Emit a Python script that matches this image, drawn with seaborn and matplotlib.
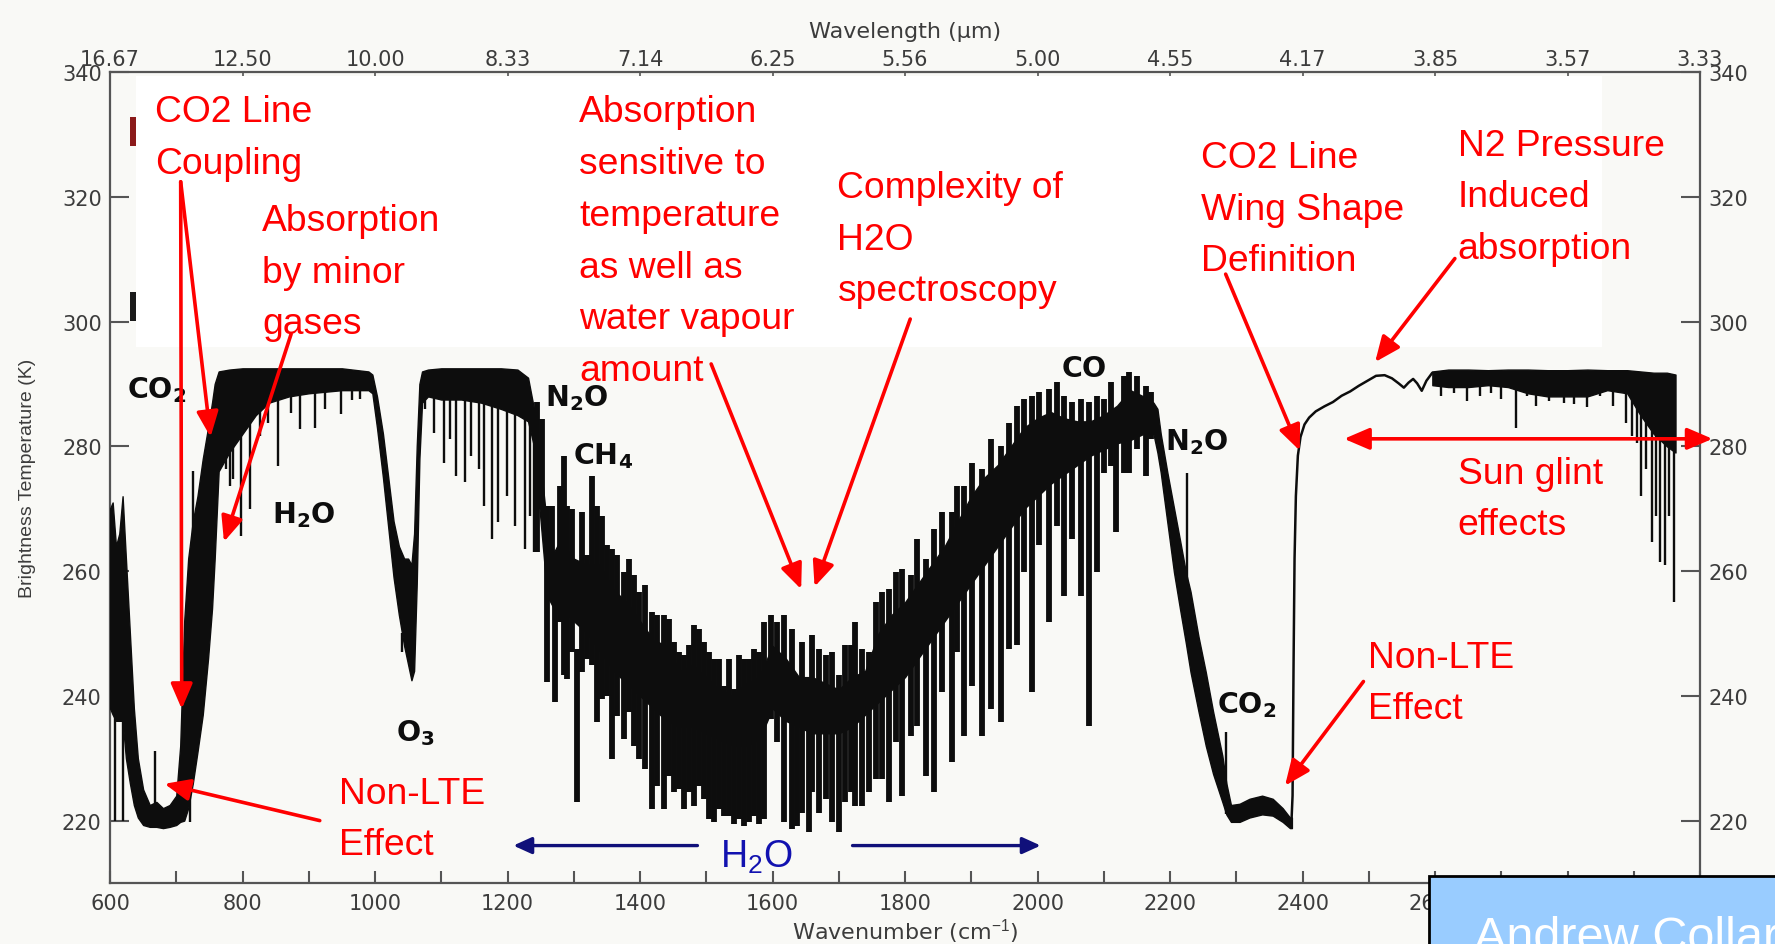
import matplotlib
matplotlib.use("Agg")
import matplotlib.pyplot as plt
from matplotlib.patches import Rectangle
import seaborn as sns

sns.set_theme(style="white")
plt.rcParams["font.family"] = ["DejaVu Sans"]
plt.rcParams["mathtext.fontset"] = "custom"
plt.rcParams["mathtext.rm"] = "Liberation Sans"
plt.rcParams["mathtext.it"] = "Liberation Sans:italic"
plt.rcParams["mathtext.bf"] = "DejaVu Sans:bold"

# ---------------- spectrum data (wavenumber cm-1, brightness temperature K) ----------------
# blackened part of the spectrum, 600-2384 cm-1: lower / upper edge
band_wn = [600, 604, 609, 614, 619, 624, 630, 636, 642, 650, 660, 670, 680, 690, 700, 706, 712, 718,
           725, 732, 740, 748, 754, 758, 764, 780, 800, 820, 840, 870, 900, 950, 990, 996, 1003, 1012,
           1020, 1028, 1036, 1044, 1050, 1055, 1059, 1063, 1067, 1071, 1080, 1100, 1130, 1160, 1190,
           1215, 1231, 1240, 1250, 1260, 1270, 1280, 1300, 1320, 1340, 1360, 1380, 1400, 1420, 1440,
           1460, 1480, 1500, 1520, 1540, 1560, 1580, 1600, 1620, 1640, 1660, 1680, 1700, 1720, 1740,
           1760, 1780, 1800, 1820, 1840, 1860, 1880, 1900, 1920, 1940, 1960, 1980, 2000, 2020, 2040,
           2060, 2080, 2100, 2120, 2140, 2160, 2175, 2181, 2186, 2196, 2206, 2215, 2224, 2231, 2243,
           2254, 2265, 2279, 2285, 2292, 2305, 2320, 2339, 2355, 2370, 2381, 2384]
band_lo = [238, 237, 236, 236, 236, 230, 226, 222.5, 220.5, 219.3, 219, 219, 218.8, 219, 219.3, 219.8,
           220, 222, 226, 231, 237, 246, 254, 262, 276, 279, 282, 285, 287, 288, 288.5, 289, 289, 288.5,
           283, 275, 267, 259, 253, 248, 245, 242.5, 244, 258, 278, 287, 288, 287.5, 287.5, 287, 286,
           285, 284, 280, 268, 256, 254, 254, 252, 250, 247, 244, 242, 240, 238, 236, 235, 235, 234,
           233, 232, 232, 233, 238, 236, 235, 234, 234, 234, 235, 237, 239, 241, 243, 246, 249, 252,
           255, 258, 261, 264, 267, 270, 272, 274, 275.5, 277, 278.5, 279.5, 280.5, 281, 282, 282, 279,
           275.8, 267.8, 259.8, 254, 248.4, 243.8, 237.5, 232, 227.5, 223, 221, 219.8, 219.8, 220.5, 221,
           220.8, 219.8, 218.8, 218.8]
band_hi = [270, 271, 264, 266, 272, 262, 250, 238, 230, 225, 222.5, 223, 222, 222.5, 224, 232, 252, 262,
           268, 272, 278, 283, 287, 290, 292, 292.3, 292.5, 292.5, 292.5, 292.5, 292.5, 292.5, 292, 291.5,
           288, 282, 275, 268, 264, 262, 262, 261, 266, 280, 290, 292, 292.3, 292.5, 292.5, 292.5, 292.5,
           292.3, 291, 286, 277, 267, 263, 265, 262, 261, 261, 257, 255, 252, 249, 248, 244, 245, 243,
           241, 240, 242, 243, 248, 246, 243, 243, 242, 241, 243, 244, 250, 253, 255, 258, 261, 264, 268,
           272, 275, 277, 280, 283, 284.5, 285.5, 284.5, 284, 284, 285, 286.5, 289, 288, 287, 286, 282,
           275.8, 270.1, 265, 259.8, 256.7, 249.5, 243.8, 237.5, 230.4, 226, 222.5, 222.7, 223.5, 224,
           223.5, 222, 220.5, 220.5]

# clean trace across the 4.3 um band edge and the N2 continuum
trace_wn = [2383, 2385, 2386.5, 2388, 2390, 2393, 2397, 2403, 2410, 2420, 2433, 2446, 2459, 2472, 2485,
            2498, 2511, 2524, 2535, 2545, 2553, 2560, 2567, 2573, 2580, 2587, 2596]
trace_t = [219, 224, 245, 262, 272, 278.5, 281.5, 283.5, 284.6, 285.6, 286.4, 287.1, 288.1, 288.8,
           289.7, 290.5, 291.3, 291.4, 290.9, 290.1, 289.4, 290.2, 290.8, 290.1, 288.9, 290.5, 291.8]

# blackened part beyond 2596 cm-1
band2_wn = [2596, 2620, 2650, 2680, 2710, 2740, 2770, 2800, 2830, 2860, 2890, 2910, 2930, 2950, 2963]
band2_lo = [289.8, 289.5, 289.5, 289.8, 289.5, 288.5, 288, 288, 288, 289, 288.5, 285, 282, 280, 279]
band2_hi = [292, 292.3, 292.3, 292.2, 292.3, 292.3, 292.2, 292.2, 292.3, 292.2, 292.2, 292, 291.8, 291.8, 291.5]

# water-vapour line forest, 1244-2171 cm-1: wavenumber, top and bottom of each line
forest_wn = [1244, 1252, 1259.6, 1267, 1272, 1279.7, 1286, 1290, 1297, 1305, 1312.5, 1320, 1327.5, 1335,
             1342.6, 1350, 1357.8, 1365.3, 1375.4, 1383, 1390.5, 1398, 1408, 1418, 1425.7, 1435.8,
             1443.4, 1451, 1458.5, 1466, 1473.6, 1481, 1488.7, 1496.2, 1503.8, 1511.3, 1518.9, 1526.4,
             1534, 1541.5, 1549, 1556.6, 1564, 1571.8, 1579.3, 1586.9, 1597, 1607, 1617, 1629.7, 1637,
             1645, 1655, 1660, 1670, 1680, 1690, 1700, 1710, 1718, 1725, 1735, 1745.5, 1755.6, 1765.7,
             1775.7, 1785.8, 1795.9, 1808.5, 1818.5, 1831, 1843.7, 1856, 1871.4, 1879, 1889, 1901.6,
             1916.7, 1929.3, 1944.4, 1957, 1969.6, 1979.7, 1992.2, 2002, 2017.4, 2030, 2040, 2052.7,
             2065, 2077.8, 2090.4, 2100.5, 2110.5, 2118, 2130.7, 2138, 2150.8, 2163.4, 2171]
forest_top = [287.1, 284.4, 270.5, 270.5, 256.6, 273.7, 278.5, 270.5, 270, 247.5, 269.4, 262.5, 275.3,
              270.5, 268.9, 264.1, 263.6, 262.5, 259.8, 262, 259.3, 256.6, 257.7, 253.4, 252.9, 252.9,
              252.3, 248.6, 247, 246.5, 248.1, 251.3, 250.7, 248.6, 247, 245.9, 245.9, 241.6, 245.9,
              241.1, 246.5, 245.9, 245.9, 247.5, 247, 251.8, 252.9, 251.8, 252.9, 250.7, 239.5, 248.6,
              239.5, 249.7, 247.5, 246.5, 247, 243.3, 248.1, 248.1, 251.8, 247.5, 247, 255, 256.6, 257.1,
              259.8, 260.3, 259.3, 265.2, 262, 266.8, 269.4, 269.4, 273.7, 273.7, 277.4, 276.4, 281.2,
              280.1, 283.8, 286.5, 287.6, 288.1, 288.7, 289.2, 290.3, 288.1, 287.1, 287.6, 287.1, 288.1,
              287.6, 290.3, 282.2, 291.3, 291.9, 291.3, 289.7, 288.7]
forest_bot = [263, 270, 242.2, 256.6, 239, 251.8, 243.3, 242.7, 247, 223, 243.8, 245.9, 244.9, 235.8,
              239.5, 240, 229.9, 236.8, 233.1, 237.4, 232, 229.9, 228.3, 221.9, 225.6, 221.9, 227.2,
              224.6, 225.1, 221.9, 224.6, 222.4, 225.6, 223.5, 220.3, 219.7, 221.9, 220.8, 220.8, 219.5,
              220.3, 219.2, 219.7, 220.8, 219.5, 220.3, 236.3, 232.6, 219.7, 218.7, 219.2, 221.3, 218.1,
              224.6, 221.3, 223.5, 219.7, 218.1, 223, 224.6, 222.4, 222.4, 224.6, 226.7, 226.7, 223,
              232.6, 224, 233.6, 235.2, 227.2, 224.6, 240.6, 229.4, 247, 233.6, 241.6, 233.6, 237.9,
              235.8, 247.5, 248.1, 259.8, 240.6, 264.1, 251.8, 267.3, 256, 265.2, 256, 235.2, 259.8,
              275.8, 276.9, 266.2, 275.8, 275.8, 279.6, 275.3, 281.2]

# other individual absorption lines: wavenumber, upper and lower temperature
line_wn = [607, 619, 668, 720, 726,
           775, 780.6, 786, 798, 812, 827, 838, 853, 873, 887.5, 909, 925, 948, 966, 977,
           1041,
           1075.4, 1089.8, 1104.3, 1113, 1121.6, 1136, 1144.7, 1156.3, 1165, 1176.5, 1185.2, 1199.7,
           1211.2, 1225.7, 1234.3, 1240.1,
           2226, 2284,
           2609, 2628.5, 2648, 2667.5, 2684, 2700, 2723, 2739, 2752, 2771.5, 2794, 2810.5, 2830,
           2849.5, 2869, 2888.5, 2898, 2905, 2911, 2918, 2927.5, 2934, 2939, 2947, 2953.5, 2960]
line_top = [237, 237, 231.2, 238, 276,
            290, 290, 290, 290, 290, 290, 290, 290, 290, 290, 290, 290, 290, 290, 290,
            250,
            290, 290, 290, 290, 290, 290, 290, 290, 290, 290, 290, 290,
            290, 290, 288, 285,
            275.8, 234.2,
            291, 291, 291, 291, 291, 291, 291, 291, 291, 291, 291, 291, 291,
            291, 291, 291, 291, 291, 291, 291, 291, 291, 291, 291, 291, 291]
line_bot = [220, 220, 221, 219.7, 265,
            276.4, 273.7, 274.8, 265.7, 270, 281.7, 283.8, 276.9, 285.4, 282.8, 283, 286, 285.2, 287.5, 287.6,
            247,
            286, 282.2, 277.4, 281.2, 275.3, 274.2, 278.5, 276.4, 270.5, 265.2, 267.8, 272.1,
            267.3, 263.6, 268.9, 263,
            257.7, 221,
            288.1, 288.6, 287.3, 288.1, 288.6, 287.6, 283, 288.1, 286.5, 287.3, 287, 286.8, 286.3,
            288.1, 286.5, 283.8, 281.7, 280.6, 272.1, 276.4, 264.6, 268.9, 261.4, 260.9, 268.9, 255]

# axis tick values and labels
wn_ticks = [600, 800, 1000, 1200, 1400, 1600, 1800, 2000, 2200, 2400, 2600, 2800, 3000]
wl_labels = ["16.67", "12.50", "10.00", "8.33", "7.14", "6.25", "5.56", "5.00", "4.55", "4.17",
             "3.85", "3.57", "3.33"]
tb_ticks = [220, 240, 260, 280, 300, 320, 340]

# gas labels: text, wavenumber, temperature (top-left)
gas_text = [r"$\mathbf{CO_2}$", r"$\mathbf{H_2O}$", r"$\mathbf{N_2O}$", r"$\mathbf{CH_4}$",
            r"$\mathbf{CO}$", r"$\mathbf{N_2O}$", r"$\mathbf{O_3}$", r"$\mathbf{CO_2}$"]
gas_wn = [626, 844, 1257, 1299, 2036, 2193, 1032, 2271]
gas_t = [291.6, 271.5, 290.3, 281, 294.8, 283.3, 236.6, 241]

# red notes: text, anchor (top-left), arrow tail and head
note_text = ["CO2 Line\nCoupling", "Absorption\nby minor\ngases",
             "Absorption\nsensitive to\ntemperature\nas well as\nwater vapour\namount",
             "Complexity of\nH2O\nspectroscopy", "CO2 Line\nWing Shape\nDefinition",
             "N2 Pressure\nInduced\nabsorption", "Sun glint\neffects", "Non-LTE\nEffect", "Non-LTE\nEffect"]
note_wn = [668, 829.6, 1308.5, 1698, 2246.5, 2634, 2634, 2499, 946]
note_t = [336.4, 319, 336.4, 324.3, 329.1, 331.1, 278.5, 249, 227.2]

arrow_from_wn = [706.7, 706.7, 873.4, 1507.4, 1807.9, 2284, 2630, 2492, 916.6]
arrow_from_t = [322.4, 322.4, 298, 293.2, 300.4, 307.6, 310.1, 242.3, 220]
arrow_to_wn = [708.3, 751.8, 772, 1643.3, 1663.5, 2396, 2509.6, 2373.6, 682.3]
arrow_to_t = [237.9, 281.5, 264.7, 257.1, 257.5, 279.3, 293.5, 225.6, 225.9]

glint_wn = [2462.8, 3018.9]
glint_t = 281.2

h2o_arrow_tail = [1486.7, 1720.8]
h2o_arrow_head = [1208.8, 2004.8]
h2o_arrow_t = 216.0

# ---------------- figure ----------------
BG = "#f9f9f6"
INK = "#0d0d0d"
AXC = "#555555"
TXT = "#3c3c3c"

fig = plt.figure(figsize=(17.75, 9.45), dpi=100, facecolor=BG)
ax = fig.add_axes([110 / 1775, 1 - 884 / 945, 1590 / 1775, 811 / 945])
ax.set_facecolor(BG)
ax.set_xlim(600, 3000)
ax.set_ylim(210, 340)

# white panel behind the notes
ax.add_patch(Rectangle((639.3, 295.9), 2852 - 639.3, 339.4 - 295.9, facecolor="white",
                       edgecolor="none", zorder=1))
ax.add_patch(Rectangle((630.2, 328.1), 9, 4.7, facecolor="#8b1a1a", edgecolor="none", zorder=1))
ax.add_patch(Rectangle((630.2, 300.1), 9, 4.6, facecolor="#1a1a1a", edgecolor="none", zorder=1))

# spectrum
ax.fill_between(band_wn, band_lo, band_hi, color=INK, lw=1.0, zorder=3)
ax.fill_between(band2_wn, band2_lo, band2_hi, color=INK, lw=1.0, zorder=3)
ax.vlines(forest_wn, forest_bot, forest_top, color=INK, lw=4.2, zorder=3)
ax.vlines(line_wn, line_bot, line_top, color=INK, lw=1.7, zorder=3)
sns.lineplot(x=trace_wn, y=trace_t, ax=ax, color=INK, lw=1.8, sort=False, estimator=None, zorder=3)

# axes styling
for side in ["left", "right", "top", "bottom"]:
    ax.spines[side].set_visible(True)
    ax.spines[side].set_color(AXC)
    ax.spines[side].set_linewidth(1.6)

ax.set_xticks(wn_ticks)
ax.set_xticks(list(range(700, 3000, 200)), minor=True)
ax.set_yticks(tb_ticks)
ax.tick_params(axis="x", which="both", direction="in", length=9, width=1.5, color=AXC,
               bottom=True, top=False, labelsize=15, labelcolor=TXT, pad=7.5)
ax.tick_params(axis="y", which="major", direction="in", length=14, width=1.5, color=AXC,
               left=True, right=True, labelleft=True, labelright=True, labelsize=15,
               labelcolor=TXT, pad=6)
ax.grid(False)

sec = ax.secondary_xaxis("top")
sec.set_xticks(wn_ticks, labels=wl_labels)
sec.tick_params(direction="in", length=6, width=1.2, color=AXC, labelsize=15, labelcolor=TXT, pad=2.5)
sec.spines["top"].set_color(AXC)

ax.text(-0.052, 0.5, "Brightness Temperature (K)", transform=ax.transAxes, rotation=90,
        ha="center", va="center", fontsize=14, color=TXT, family="Liberation Sans")
ax.text(0.5, -0.059, "Wavenumber (cm$^{-1}$)", transform=ax.transAxes, ha="center",
        va="center", fontsize=16, color=TXT)
ax.text(0.5, 1.0506, "Wavelength (\u00b5m)", transform=ax.transAxes, ha="center",
        va="center", fontsize=16, color=TXT)

# gas labels
for s, x, y in zip(gas_text, gas_wn, gas_t):
    ax.text(x, y, s, ha="left", va="top", fontsize=20.5, color=INK, zorder=5)

# water vapour band marker
ax.text(1521.5, 217.2, r"$\mathrm{H_2O}$", ha="left", va="top", fontsize=27, color="#1212b0", zorder=5)
for tail, head in zip(h2o_arrow_tail, h2o_arrow_head):
    ax.annotate("", xy=(head, h2o_arrow_t), xytext=(tail, h2o_arrow_t),
                arrowprops=dict(arrowstyle="-|>,head_length=0.55,head_width=0.25", lw=2.4,
                                color="#10107a", shrinkA=0, shrinkB=0, mutation_scale=20),
                annotation_clip=False, zorder=5)

# red notes and arrows
for s, x, y in zip(note_text, note_wn, note_t):
    ax.text(x, y, s, ha="left", va="top", fontsize=26.8, color="#ff0000",
            family="Liberation Sans", linespacing=1.62, zorder=6)
for x0, y0, x1, y1 in zip(arrow_from_wn, arrow_from_t, arrow_to_wn, arrow_to_t):
    ax.annotate("", xy=(x1, y1), xytext=(x0, y0),
                arrowprops=dict(arrowstyle="-|>,head_length=0.7,head_width=0.3", lw=2.6,
                                color="#ff0000", shrinkA=0, shrinkB=0, mutation_scale=22),
                annotation_clip=False, zorder=6)
ax.annotate("", xy=(glint_wn[1], glint_t), xytext=(glint_wn[0], glint_t),
            arrowprops=dict(arrowstyle="<|-|>,head_length=0.7,head_width=0.3", lw=2.6,
                            color="#ff0000", shrinkA=0, shrinkB=0, mutation_scale=22),
            annotation_clip=False, zorder=6)

# author tag in the corner
fig.patches.append(Rectangle((1429 / 1775, -0.05), 0.3, 0.05 + (945 - 877) / 945,
                             transform=fig.transFigure, facecolor="#99ccff",
                             edgecolor="black", lw=2, zorder=10))
fig.text(1474 / 1775, -6 / 945, "Andrew Collard", fontsize=35, color="white",
         family="Liberation Sans", ha="left", va="baseline", zorder=11)

fig.savefig("out.png", dpi=100, facecolor=BG)
